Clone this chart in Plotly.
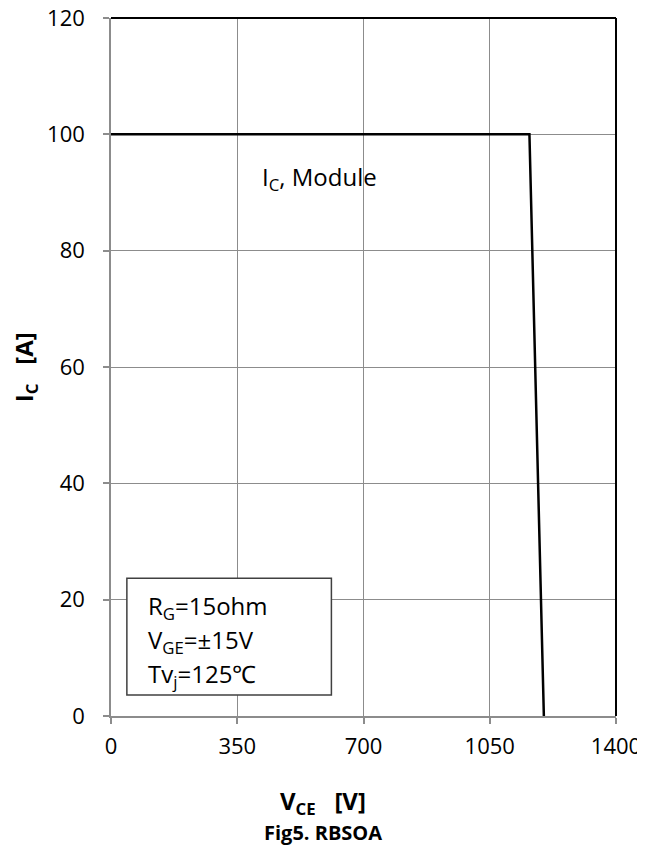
import plotly.graph_objects as go

# data
vce = [0, 1160, 1200]
ic = [100, 100, 0]
x_ticks = [0, 350, 700, 1050, 1400]
y_ticks = [0, 20, 40, 60, 80, 100, 120]
cond_lines = ["R<sub>G</sub>=15ohm", "V<sub>GE</sub>=±15V", "Tv<sub>j</sub>=125℃"]

FONT = "Open Sans"
GRID = "#8c8c8c"

fig = go.Figure()
fig.add_trace(go.Scatter(x=vce, y=ic, mode="lines",
                         line=dict(color="black", width=2.5),
                         showlegend=False, hoverinfo="skip"))

# page body adds an 8px margin, so margins are offset by 8px
fig.update_layout(
    width=645, height=850,
    margin=dict(l=103, r=37, t=10, b=142, autoexpand=False),
    paper_bgcolor="white", plot_bgcolor="white",
    font=dict(family=FONT, size=23, color="black"),
    showlegend=False,
)
fig.update_xaxes(range=[0, 1400], tickvals=x_ticks, showgrid=True, automargin=False,
                 gridcolor=GRID, gridwidth=1.3, zeroline=False,
                 showline=True, linecolor=GRID, linewidth=1.5,
                 ticks="outside", ticklen=6, tickcolor=GRID, tickwidth=1.5,
                 ticklabelstandoff=4, ticklabeloverflow="allow",
                 tickfont=dict(size=22, family=FONT))
fig.update_yaxes(range=[0, 120], tickvals=y_ticks, showgrid=True, automargin=False,
                 gridcolor=GRID, gridwidth=1.3, zeroline=False,
                 showline=True, linecolor=GRID, linewidth=1.5,
                 ticks="outside", ticklen=6, tickcolor=GRID, tickwidth=1.5,
                 ticklabelstandoff=14, ticklabeloverflow="allow",
                 tickfont=dict(size=22, family=FONT))

# top and right black borders
fig.add_shape(type="line", xref="x domain", yref="y domain", x0=0, x1=1, y0=1, y1=1,
              line=dict(color="black", width=2))
fig.add_shape(type="line", xref="x domain", yref="y domain", x0=1, x1=1, y0=0, y1=1,
              line=dict(color="black", width=2))

# axis titles (centred on the page, as in the reference)
fig.add_annotation(xref="paper", yref="paper", x=0.419, y=-0.123, xanchor="center",
                   yanchor="middle", showarrow=False,
                   text="<b>V<sub>CE</sub>&nbsp;&nbsp; [V]</b>", font=dict(size=24, family=FONT))
fig.add_annotation(xref="paper", yref="paper", x=0.419, y=-0.167, xanchor="center",
                   yanchor="middle", showarrow=False,
                   text="<b>Fig5. RBSOA</b>", font=dict(size=20, family=FONT))
fig.add_annotation(xref="paper", yref="paper", x=-0.17, y=0.5, xanchor="center",
                   yanchor="middle", showarrow=False, textangle=-90,
                   text="<b>I<sub>C</sub>&nbsp;&nbsp; [A]</b>", font=dict(size=24, family=FONT))

# curve label
fig.add_annotation(x=412, y=92.5, xanchor="left", yanchor="middle", showarrow=False,
                   text="I<sub>C</sub>, Module", font=dict(size=24, family=FONT))

# condition box
fig.add_shape(type="rect", x0=44, x1=611, y0=3.6, y1=23.7,
              line=dict(color="#404040", width=1.5), fillcolor="white")
for i, t in enumerate(cond_lines):
    fig.add_annotation(x=96, y=18.7 - i * 5.85, xanchor="left", yanchor="middle",
                       showarrow=False, text=t, font=dict(size=24, family=FONT))

fig.write_html("out.html")
